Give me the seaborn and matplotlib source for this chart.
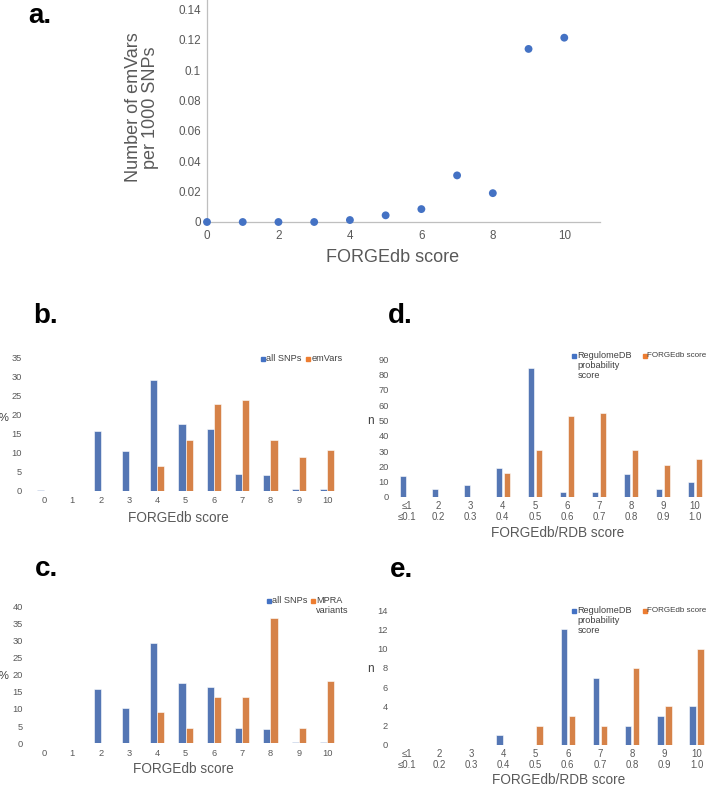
import matplotlib
matplotlib.use("Agg")
import matplotlib.pyplot as plt
from matplotlib.lines import Line2D
import pandas as pd
import seaborn as sns

# ---------------- data ----------------
a_scores = [0, 1, 2, 3, 4, 5, 6, 7, 8, 9, 10]
a_emvars_per_1000 = [0.0, 0.0, 0.0, 0.0, 0.0013, 0.0044, 0.0085, 0.0307, 0.019, 0.114, 0.1214]
a_xticks = [0, 2, 4, 6, 8, 10]
a_yticks = [0, 0.02, 0.04, 0.06, 0.08, 0.10, 0.12, 0.14]
a_ytick_labels = ["0", "0.02", "0.04", "0.06", "0.08", "0.1", "0.12", "0.14"]

forgedb_scores = ["0", "1", "2", "3", "4", "5", "6", "7", "8", "9", "10"]
b_all_snps = [0.2, 0.1, 15.7, 10.4, 29.1, 17.5, 16.3, 4.5, 4.1, 0.4, 0.5]
b_emvars = [0, 0, 0, 0, 6.6, 13.3, 22.8, 23.7, 13.3, 8.8, 10.7]
c_all_snps = [0.2, 0.1, 15.7, 10.4, 29.1, 17.5, 16.3, 4.5, 4.1, 0.4, 0.5]
c_mpra = [0, 0, 0, 0, 9.1, 4.5, 13.6, 13.6, 36.4, 4.5, 18.2]

rdb_bins = ["1", "2", "3", "4", "5", "6", "7", "8", "9", "10"]
rdb_tick_labels = ["≤1\n≤0.1", "2\n0.2", "3\n0.3", "4\n0.4", "5\n0.5",
                   "6\n0.6", "7\n0.7", "8\n0.8", "9\n0.9", "10\n1.0"]
d_regulome = [14, 5, 8, 19, 84, 3, 3, 15, 5, 10]
d_forgedb = [0, 0, 0, 16, 31, 53, 55, 31, 21, 25]
e_regulome = [0, 0, 0, 1, 0, 12, 7, 2, 3, 4]
e_forgedb = [0, 0, 0, 0, 2, 3, 2, 8, 4, 10]

# ---------------- style ----------------
sns.set_theme(style="white")
plt.rcParams["font.family"] = ["Liberation Sans", "DejaVu Sans"]

BLUE = "#4472C4"
ORANGE = "#ED7D31"
GREY = "#595959"

W, H = 708, 787
fig = plt.figure(figsize=(W / 100, H / 100), dpi=100)


def rect(l, t, r, b):
    return [l / W, 1 - b / H, (r - l) / W, (b - t) / H]


def to_ax(r, x, y):
    l, t, rr, b = r
    return (x - l) / (rr - l), (b - y) / (b - t)


# ---------------- panel a ----------------
ra = (207, 0.2, 600, 222)
axa = fig.add_axes(rect(*ra))
sns.scatterplot(x=a_scores, y=a_emvars_per_1000, ax=axa, color=BLUE, s=32,
                edgecolor="none", clip_on=False, zorder=3)
axa.set_xlim(0, 11)
axa.set_ylim(0, 0.1461)
axa.set_xticks(a_xticks)
axa.set_yticks(a_yticks)
axa.set_yticklabels(a_ytick_labels)
axa.tick_params(axis="both", length=0, labelsize=8.4, labelcolor=GREY)
axa.tick_params(axis="x", pad=5.5)
axa.tick_params(axis="y", pad=4.3)
for s in ["top", "right"]:
    axa.spines[s].set_visible(False)
for s in ["left", "bottom"]:
    axa.spines[s].set_color("#bfbfbf")
    axa.spines[s].set_linewidth(0.9)
axa.set_xlabel("FORGEdb score", fontsize=13, color=GREY, va="center")
axa.xaxis.set_label_coords(*to_ax(ra, 393, 258))
axa.set_ylabel("Number of emVars\nper 1000 SNPs", fontsize=13, color=GREY,
               va="center", ha="center", linespacing=1.0)
axa.yaxis.set_label_coords(*to_ax(ra, 142, 107.5))


# ---------------- bar panels ----------------
def bar_panel(r, cats, s1, s2, names, gap, ylim, ystep, ypad, xpad,
              ylab, ylab_xy, ylab_size, xlab, xlab_xy, ticklabels=None,
              xtick_size=6.7):
    ax = fig.add_axes(rect(*r))
    df = pd.DataFrame({
        "cat": cats * 2,
        "val": list(s1) + list(s2),
        "series": [names[0]] * len(cats) + [names[1]] * len(cats),
    })
    sns.barplot(data=df, x="cat", y="val", hue="series", order=cats,
                hue_order=names, palette=[BLUE, ORANGE], width=0.5, gap=gap,
                edgecolor="white", linewidth=0.4, legend=False, errorbar=None,
                ax=ax)
    ax.set_xlim(-0.5, len(cats) - 0.5)
    ax.set_ylim(*ylim)
    ax.set_yticks(list(range(int(ylim[0]), int(ylim[1]) + 1, ystep)))
    if ticklabels is not None:
        ax.set_xticks(range(len(cats)))
        ax.set_xticklabels(ticklabels, linespacing=1.12)
    ax.tick_params(axis="both", length=0, labelsize=6.7, labelcolor=GREY)
    ax.tick_params(axis="x", labelsize=xtick_size, pad=xpad)
    ax.tick_params(axis="y", pad=ypad)
    for s in ax.spines.values():
        s.set_visible(False)
    ax.set_xlabel(xlab, fontsize=9.8, color=GREY, va="center")
    ax.xaxis.set_label_coords(*to_ax(r, *xlab_xy))
    ax.set_ylabel(ylab, fontsize=ylab_size, color="#404040", rotation=0,
                  va="center", ha="center")
    ax.yaxis.set_label_coords(*to_ax(r, *ylab_xy))
    return ax


def legend_entry(x_marker, y_line, color, x_text, text, size=6.6):
    fig.add_artist(Line2D([x_marker / W], [1 - y_line / H], marker="s",
                          linestyle="none", color=color, markersize=2.6,
                          transform=fig.transFigure))
    offset = 0.70 * size
    fig.text(x_text / W, 1 - (y_line - offset) / H, text, fontsize=size,
             color="#404040", ha="left", va="top", linespacing=1.12)


rb = (29.85, 357.3, 341.2, 491)
bar_panel(rb, forgedb_scores, b_all_snps, b_emvars, ["all SNPs", "emVars"],
          0, (0, 35), 5, 5.8, 3.8, "%", (4, 418), 8, "FORGEdb score", (178, 518))
legend_entry(263.3, 359, BLUE, 266.2, "all SNPs")
legend_entry(308.3, 359, ORANGE, 311.2, "emVars")

rc = (29.85, 606, 341.2, 743.3)
bar_panel(rc, forgedb_scores, c_all_snps, c_mpra, ["all SNPs", "MPRA variants"],
          0, (0, 40), 5, 5.0, 3.8, "%", (4, 675.7), 8, "FORGEdb score", (183, 769.3))
legend_entry(269.3, 600.7, BLUE, 272.2, "all SNPs")
legend_entry(313.3, 600.7, ORANGE, 316.2, "MPRA\nvariants")

rd = (390.7, 359.3, 711, 497)
bar_panel(rd, rdb_bins, d_regulome, d_forgedb,
          ["RegulomeDB probability score", "FORGEdb score"],
          0.2, (0, 90), 10, 1.2, 3.0, "n", (370.7, 420.7), 8.6,
          "FORGEdb/RDB score", (558, 533), ticklabels=rdb_tick_labels,
          xtick_size=6.9)
legend_entry(574.3, 356, BLUE, 577.3, "RegulomeDB\nprobability\nscore")
legend_entry(644.5, 356, ORANGE, 647.2, "FORGEdb score", size=5.75)

re_ = (390.6, 610, 712.8, 745)
bar_panel(re_, rdb_bins, e_regulome, e_forgedb,
          ["RegulomeDB probability score", "FORGEdb score"],
          0.2, (0, 14), 2, 2.0, 3.0, "n", (370.7, 669.3), 8.6,
          "FORGEdb/RDB score", (558.3, 780.3), ticklabels=rdb_tick_labels,
          xtick_size=6.9)
legend_entry(574.3, 610.7, BLUE, 577.3, "RegulomeDB\nprobability\nscore")
legend_entry(644.5, 610.7, ORANGE, 647.2, "FORGEdb score", size=5.75)

# ---------------- panel letters ----------------
for letter, x, y in [("a.", 28, 23), ("b.", 33, 323), ("c.", 35, 576),
                     ("d.", 388, 323), ("e.", 390, 577)]:
    fig.text(x / W, 1 - y / H, letter, fontsize=20, fontweight="bold",
             color="black", ha="left", va="baseline")

fig.savefig("out.png", dpi=100)
